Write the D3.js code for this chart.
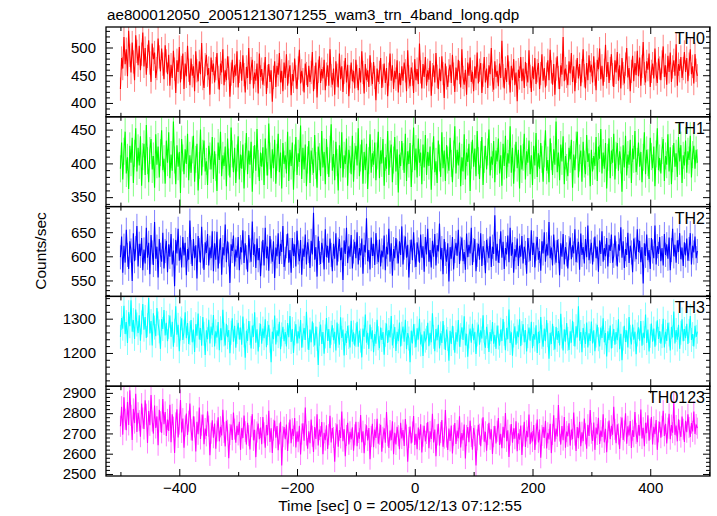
<!DOCTYPE html>
<html><head><meta charset="utf-8">
<script src="https://cdn.jsdelivr.net/npm/d3@7"></script>
<style>
body{margin:0;background:#fff}
svg{display:block}
text{font-family:"Liberation Sans",Arial,Helvetica,sans-serif;fill:#000}
</style>
</head><body>
<svg id="c" width="717" height="516"></svg>
<script>
const titleText = "ae800012050_20051213071255_wam3_trn_4band_long.qdp";
const xLabel = "Time [sec] 0 = 2005/12/13 07:12:55";
const yLabel = "Counts/sec";
const bandNames = ["TH0","TH1","TH2","TH3","TH0123"];
const bandColors = ["#ff0000","#00ff00","#0000ff","#00ffff","#ff00ff"];
const tStart = -500, binSize = 2;

const th0 = [425,481,462,519,470,497,448,530,486,455,509,474,441,522,493,468,503,459,488,527,
466,499,451,484,513,472,438,507,479,491,445,462,516,483,457,498,470,443,504,476,
452,487,431,469,445,494,461,418,477,456,501,437,464,489,425,471,448,503,459,432,
480,449,466,421,493,458,439,475,452,508,444,427,469,487,450,463,415,482,456,471,
437,462,490,446,424,471,455,497,432,459,441,484,463,411,452,478,436,468,449,493,
428,457,474,440,486,451,419,465,445,499,434,462,478,426,455,440,471,417,489,447,
461,433,452,483,416,448,470,438,459,402,446,475,429,467,451,490,437,458,421,473,
445,488,431,456,468,414,452,439,480,447,425,463,496,435,458,442,419,471,453,429,
467,438,455,492,421,446,473,410,457,484,436,461,444,478,423,452,468,431,497,449,
433,462,415,475,450,428,489,443,466,420,455,481,437,469,412,447,473,439,458,426,
478,448,423,463,437,493,455,417,470,441,459,429,486,452,434,474,446,405,462,438,
455,481,427,449,471,436,463,412,452,489,440,468,425,458,443,477,419,454,432,466,
440,473,458,421,495,447,430,464,452,418,479,441,461,434,507,456,426,470,447,483,
431,459,442,476,413,451,468,437,490,448,425,462,439,484,453,409,471,445,429,458,
469,436,487,452,420,464,441,478,455,428,497,446,433,460,415,473,449,482,438,456,
421,466,444,491,435,459,472,418,450,483,437,462,427,468,452,499,441,424,475,447,
458,430,471,445,512,449,426,463,438,486,454,419,467,441,479,432,455,403,460,445,
483,439,462,427,474,451,437,495,448,420,466,443,481,434,458,472,425,453,488,440,
463,428,452,477,441,496,456,433,470,415,461,484,446,425,468,451,519,439,462,448,
432,475,453,490,438,466,421,457,481,444,470,430,458,497,449,426,472,441,486,455,
469,437,484,452,423,478,461,498,443,467,431,459,505,447,474,436,462,488,451,429,
477,455,492,440,468,426,481,453,435,470,499,446,463,421,457,485,439,472,450,494,
448,482,431,466,510,453,437,475,460,489,429,457,471,444,498,452,436,480,463,441,
474,502,447,468,433,485,456,491,438,465,477,449,506,431,470,458,483,445,462,492,
456,481,439,470,497,452,466,435,488,459,449];

const th1 = [392,431,376,418,447,385,409,362,426,401,438,371,415,452,388,423,397,440,367,410,
429,383,457,404,372,419,436,391,411,364,443,398,425,379,416,449,390,407,370,434,
401,446,378,413,389,462,405,369,427,395,417,356,436,408,384,421,399,444,375,412,
386,420,441,373,406,429,360,397,450,382,415,434,388,403,368,426,411,391,439,377,
418,394,359,431,405,447,381,412,396,425,366,437,402,379,453,414,387,423,371,408,
440,376,413,392,428,363,410,445,384,419,398,432,358,406,427,389,451,400,374,416,
395,424,368,437,402,382,459,411,378,421,393,435,370,409,444,387,416,363,430,399,
412,385,447,374,420,396,431,361,408,439,383,415,402,456,377,423,391,428,366,405,
433,371,419,403,386,442,397,364,425,410,381,448,394,417,369,436,404,380,421,458,
389,414,375,432,401,360,427,393,446,379,412,399,437,367,420,406,384,441,373,410,
426,397,452,381,408,435,370,417,390,429,362,404,443,386,415,398,431,375,411,447,
378,419,400,436,367,409,392,448,383,414,428,372,405,439,388,421,357,413,396,433,
410,386,444,374,418,399,430,365,407,453,390,422,379,437,401,416,369,428,394,442,
383,417,396,425,361,411,440,387,403,371,434,408,380,446,393,419,374,427,405,389,
438,400,372,414,455,385,420,397,431,366,409,388,443,376,416,402,429,359,412,435,
395,422,381,448,404,377,413,439,368,406,426,391,417,450,382,410,398,433,372,419,
403,437,385,412,367,429,396,441,378,415,400,455,386,423,370,408,432,393,420,363,
427,391,409,444,376,418,401,434,384,412,368,426,397,445,380,415,392,430,406,373,
414,449,389,405,372,437,410,383,421,398,462,387,416,375,428,403,440,369,411,394,
381,423,406,435,364,413,390,427,447,379,408,419,373,432,399,384,442,402,415,366,
420,388,411,396,439,374,425,407,451,385,416,392,430,363,409,437,378,419,401,444,
376,412,430,389,418,405,358,427,394,441,382,413,398,435,371,422,406,448,387,403,
431,395,417,372,409,446,384,420,401,377,438,410,393,425,366,414,452,390,408,385,
419,436,374,411,398,443,388,424,369,407,430,395,415,380,439,403,427,371,412,397,
434,386,418,405,441,379,413,426,392,420,401];

const th2 = [598,641,566,622,587,655,603,574,631,612,549,648,590,617,663,579,626,601,638,571,
614,585,659,597,628,563,644,608,582,671,595,620,556,636,603,589,649,575,611,632,
567,625,599,646,583,612,538,634,606,657,591,618,577,640,602,628,561,615,593,674,
609,580,636,596,623,554,642,613,587,661,600,572,629,607,646,581,618,596,652,569,
627,593,651,575,610,638,562,619,602,666,588,631,604,545,625,611,643,579,614,597,
640,571,619,608,654,586,627,598,568,644,612,589,672,603,625,576,637,592,617,559,
606,634,581,659,596,620,570,642,610,589,631,555,618,600,648,584,626,609,663,578,
595,621,647,587,613,566,638,601,625,579,653,608,590,634,562,616,599,645,583,629,
611,576,632,604,690,593,619,558,641,607,584,628,612,573,656,598,622,587,637,603,
569,626,595,648,581,614,636,592,618,551,633,605,659,586,621,599,644,575,610,630,
596,650,583,617,602,637,564,624,608,679,590,613,573,639,601,626,582,648,609,588,
635,579,612,598,643,571,620,604,657,589,627,560,615,596,638,610,585,631,603,662,
583,618,641,597,624,556,609,635,592,650,602,578,629,614,587,645,597,621,568,640,
604,657,589,613,577,632,599,646,581,623,610,668,594,617,563,636,605,589,627,548,
619,595,640,573,611,628,601,655,584,616,639,590,609,572,647,598,624,606,659,582,
613,636,569,603,626,593,648,580,621,607,565,634,612,596,641,578,620,605,685,591,
626,587,611,652,597,630,574,617,604,643,588,659,601,629,566,615,598,637,580,622,
599,642,585,620,607,564,638,613,591,654,603,628,577,616,640,593,611,570,631,606,
650,589,625,602,671,596,618,581,645,608,587,634,611,561,627,599,646,583,619,604,
575,617,639,594,623,606,656,588,612,630,572,647,603,619,585,636,598,664,592,610,
628,583,614,641,596,620,568,633,605,652,589,617,600,638,579,624,611,645,587,601,
643,606,579,625,612,660,597,631,576,615,603,649,586,622,608,567,637,614,594,656,
609,632,588,619,544,627,601,645,592,613,574,638,610,596,664,583,621,605,640,590,
617,581,646,603,625,595,639,571,613,657,600,624,587,633,609,648,594,618,580,629,
602,637,591,615,648,583,622,608,641,596,611];

const th3 = [1247,1302,1271,1338,1255,1290,1229,1319,1278,1354,1262,1296,1241,1327,1283,1258,1310,1236,1289,1343,
1268,1305,1244,1281,1360,1257,1293,1222,1316,1274,1249,1331,1286,1263,1212,1299,1270,1325,1251,1288,
1234,1276,1309,1247,1291,1218,1265,1336,1253,1282,1205,1271,1301,1238,1262,1319,1243,1287,1226,1258,
1296,1231,1268,1203,1284,1250,1315,1239,1273,1221,1305,1256,1194,1266,1240,1297,1228,1277,1252,1311,
1219,1263,1245,1290,1208,1272,1237,1326,1254,1222,1285,1246,1267,1199,1259,1301,1233,1279,1215,1261,
1288,1239,1274,1224,1306,1251,1186,1265,1235,1293,1258,1213,1280,1247,1319,1230,1269,1204,1252,1285,
1227,1271,1243,1298,1217,1258,1282,1236,1173,1262,1240,1309,1225,1266,1249,1291,1211,1254,1276,1234,
1261,1219,1287,1246,1308,1232,1270,1200,1257,1284,1228,1263,1242,1296,1215,1251,1273,1238,1320,1245,
1209,1268,1231,1292,1253,1222,1277,1241,1165,1256,1283,1226,1261,1198,1248,1302,1235,1270,1214,1259,
1281,1237,1262,1207,1289,1250,1224,1304,1244,1268,1193,1257,1229,1279,1246,1216,1294,1233,1260,1221,
1252,1291,1218,1265,1236,1187,1271,1247,1312,1230,1259,1212,1283,1240,1266,1202,1255,1227,1297,1243,
1214,1274,1238,1261,1195,1253,1286,1229,1267,1245,1308,1222,1249,1276,1206,1262,1234,1289,1219,1256,
1277,1233,1297,1211,1258,1242,1173,1265,1228,1284,1250,1217,1272,1239,1300,1225,1254,1191,1263,1236,
1244,1288,1220,1259,1231,1316,1247,1205,1270,1237,1282,1213,1257,1229,1293,1246,1209,1268,1241,1177,
1265,1226,1279,1243,1201,1260,1233,1296,1218,1252,1275,1238,1307,1222,1256,1189,1248,1271,1230,1285,
1237,1262,1197,1254,1283,1224,1266,1242,1310,1232,1215,1276,1249,1203,1261,1234,1290,1227,1253,1212,
1280,1245,1221,1268,1235,1299,1256,1208,1273,1240,1327,1229,1260,1192,1251,1278,1224,1263,1246,1298,
1220,1258,1284,1231,1267,1204,1249,1274,1236,1291,1214,1255,1239,1281,1200,1262,1229,1305,1247,1218,
1271,1234,1296,1252,1183,1259,1226,1285,1243,1210,1276,1238,1264,1222,1314,1248,1207,1269,1233,1287,
1241,1209,1263,1230,1294,1255,1219,1278,1245,1336,1236,1261,1202,1273,1250,1226,1289,1216,1257,1235,
1292,1228,1266,1205,1251,1282,1240,1219,1274,1244,1301,1231,1258,1190,1263,1237,1280,1213,1249,1270,
1224,1261,1237,1298,1211,1256,1179,1242,1279,1232,1266,1216,1305,1247,1225,1283,1239,1262,1196,1254,
1275,1236,1293,1221,1259,1243,1312,1229,1268,1204,1250,1286,1233,1271,1218,1257,1295,1241,1264,1227,
1249,1300,1216,1262,1235,1288,1254,1207,1276,1245,1321,1228,1267,1239,1282,1212,1259,1298,1234,1270,
1243,1285,1226,1264,1308,1238,1255,1219,1279,1247,1262];

const th0123 = [2735,2832,2694,2878,2770,2716,2855,2742,2913,2789,2668,2821,2751,2896,2707,2802,2763,2684,2847,2776,
2722,2864,2795,2653,2811,2740,2889,2761,2699,2838,2727,2784,2642,2817,2758,2703,2870,2745,2806,2688,
2769,2712,2841,2656,2794,2731,2603,2752,2819,2680,2746,2865,2705,2773,2629,2737,2798,2692,2760,2847,
2718,2664,2785,2732,2611,2757,2696,2828,2673,2741,2793,2647,2724,2688,2809,2736,2592,2701,2765,2679,
2749,2625,2712,2780,2661,2733,2690,2817,2705,2636,2762,2716,2578,2695,2744,2668,2803,2721,2654,2738,
2693,2757,2619,2726,2677,2788,2709,2645,2752,2689,2621,2734,2795,2666,2718,2583,2707,2749,2672,2729,
2647,2781,2703,2630,2741,2691,2812,2658,2725,2604,2716,2763,2679,2736,2617,2698,2757,2542,2684,2731,
2671,2744,2613,2702,2768,2652,2723,2687,2776,2631,2709,2659,2738,2596,2697,2750,2664,2828,2692,2625,
2710,2652,2769,2686,2609,2732,2673,2795,2641,2719,2684,2756,2598,2703,2667,2740,2623,2694,2787,2655,
2727,2680,2561,2699,2745,2634,2716,2678,2808,2662,2721,2587,2690,2753,2646,2708,2671,2730,2615,2693,
2758,2637,2705,2674,2791,2656,2711,2602,2694,2740,2665,2727,2573,2685,2748,2632,2719,2678,2772,2649,
2696,2743,2610,2681,2725,2654,2806,2688,2628,2714,2667,2760,2597,2703,2646,2733,2689,2622,2752,2675,
2717,2638,2771,2692,2560,2680,2734,2651,2707,2786,2643,2698,2622,2729,2669,2745,2606,2687,2738,2661,
2700,2756,2627,2710,2673,2797,2655,2719,2588,2693,2748,2640,2705,2766,2634,2677,2816,2682,2619,2724,
2663,2739,2601,2691,2751,2648,2714,2676,2785,2631,2702,2666,2744,2576,2690,2731,2657,2763,2685,2620,
2727,2689,2542,2668,2742,2696,2637,2722,2780,2659,2708,2615,2695,2753,2671,2720,2599,2684,2737,2650,
2711,2776,2643,2698,2627,2733,2679,2801,2661,2716,2584,2692,2746,2654,2725,2674,2760,2612,2701,2669,
2739,2594,2688,2757,2633,2713,2681,2793,2647,2706,2660,2741,2618,2697,2768,2655,2719,2580,2690,2732,
2678,2762,2626,2703,2670,2748,2603,2695,2789,2659,2724,2685,2840,2712,2645,2736,2667,2781,2629,2709,
2686,2750,2640,2719,2672,2803,2692,2614,2731,2676,2758,2637,2706,2662,2774,2698,2625,2743,2688,2816,
2701,2663,2754,2619,2729,2695,2777,2648,2714,2682,2795,2656,2723,2607,2707,2764,2671,2738,2694,2832,
2720,2652,2745,2697,2623,2730,2778,2668,2712,2799,2649,2735,2690,2761,2628,2716,2683,2806,2700,2657,
2742,2689,2818,2675,2728,2637,2752,2701,2790,2664,2721,2781,2645,2733,2696,2766,2619,2708,2757,2679,
2735,2812,2688,2747,2650,2726,2797,2672,2741,2704,2851,2693,2739,2661,2770,2715,2682,2783,2721,2658,
2762,2706,2794,2729,2683,2751,2710,2808,2697,2744,2726];

const bandValues = [th0, th1, th2, th3, th0123];
const bandErrors = [21, 20, 25, 35, 52];
const yDomains = [[375,537],[336,469],[517,703],[1103,1365],[2490,2933]];
const yMajorTicks = [[400,450,500],[350,400,450],[550,600,650],[1200,1300],[2500,2600,2700,2800,2900]];
const yMinorStep = [10,10,10,20,20];
const xDomain = [-524.5, 501.5];
const xMajorTicks = [-400,-200,0,200,400];
const xMinorTicks = [-500,-300,-100,100,300,500];

const svg = d3.select("#c");
const L = 106, R = 710, T = 27, B = 476;
const nP = bandNames.length;
const ph = (B - T) / nP;
const x = d3.scaleLinear().domain(xDomain).range([L, R]);

svg.append("text").attr("x", 107).attr("y", 19.5).attr("font-size", 15.2).text(titleText);

bandValues.forEach((vals, k) => {
  const g = svg.append("g").attr("transform", `translate(0,${T + k*ph})`);
  const y = d3.scaleLinear().domain(yDomains[k]).range([ph, 0]);
  const cid = "clip" + k;
  g.append("clipPath").attr("id", cid).append("rect").attr("x", L).attr("y", 0).attr("width", R-L).attr("height", ph);
  const pts = vals.map((v, i) => ({t: tStart + i*binSize, v}));
  const dg = g.append("g").attr("clip-path", `url(#${cid})`);
  dg.selectAll("line.err").data(pts).join("line").attr("class","err")
    .attr("x1", d => x(d.t)).attr("x2", d => x(d.t))
    .attr("y1", d => y(d.v - bandErrors[k])).attr("y2", d => y(d.v + bandErrors[k]))
    .attr("stroke", bandColors[k]).attr("stroke-opacity", 0.5).attr("stroke-width", 1);
  dg.append("path").datum(pts)
    .attr("d", d3.line().x(d => x(d.t)).y(d => y(d.v)))
    .attr("fill", "none").attr("stroke", bandColors[k]).attr("stroke-width", 1.1);

  const minor = d3.range(Math.ceil(yDomains[k][0]/yMinorStep[k])*yMinorStep[k], yDomains[k][1], yMinorStep[k])
    .filter(v => !yMajorTicks[k].includes(v));
  const axes = [
    g.append("g").attr("transform", `translate(${L},0)`).call(d3.axisLeft(y).tickValues(yMajorTicks[k]).tickSize(-7).tickPadding(10).tickFormat(d3.format("d"))),
    g.append("g").attr("transform", `translate(${L},0)`).call(d3.axisLeft(y).tickValues(minor).tickSize(-4).tickFormat("")),
    g.append("g").attr("transform", `translate(${R},0)`).call(d3.axisRight(y).tickValues(yMajorTicks[k]).tickSize(-7).tickFormat("")),
    g.append("g").attr("transform", `translate(${R},0)`).call(d3.axisRight(y).tickValues(minor).tickSize(-4).tickFormat("")),
    g.append("g").call(d3.axisTop(x).tickValues(xMajorTicks).tickSize(-7).tickFormat("")),
    g.append("g").call(d3.axisTop(x).tickValues(xMinorTicks).tickSize(-4).tickFormat("")),
    g.append("g").attr("transform", `translate(0,${ph})`).call(d3.axisBottom(x).tickValues(xMajorTicks).tickSize(-7).tickPadding(6)
      .tickFormat(k === nP-1 ? (d => d < 0 ? "\u2212" + Math.abs(d) : String(d)) : "")),
    g.append("g").attr("transform", `translate(0,${ph})`).call(d3.axisBottom(x).tickValues(xMinorTicks).tickSize(-4).tickFormat(""))
  ];
  axes.forEach(a => {
    a.select(".domain").remove();
    a.selectAll(".tick line").attr("stroke", "#000").attr("stroke-width", 1);
    a.selectAll("text").attr("font-size", 15).attr("font-family", '"Liberation Sans",Arial,sans-serif').attr("fill", "#000");
  });
  g.append("rect").attr("x", L).attr("y", 0).attr("width", R-L).attr("height", ph)
    .attr("fill", "none").attr("stroke", "#000").attr("stroke-width", 1.3);
  g.append("text").attr("x", 705).attr("y", 17).attr("text-anchor", "end").attr("font-size", 16).text(bandNames[k]);
});

svg.append("text").attr("x", 400).attr("y", 511).attr("text-anchor", "middle").attr("font-size", 15.5).text(xLabel);
svg.append("text").attr("transform", "translate(46,251) rotate(-90)").attr("text-anchor", "middle").attr("font-size", 15.5).text(yLabel);
</script>
</body></html>
